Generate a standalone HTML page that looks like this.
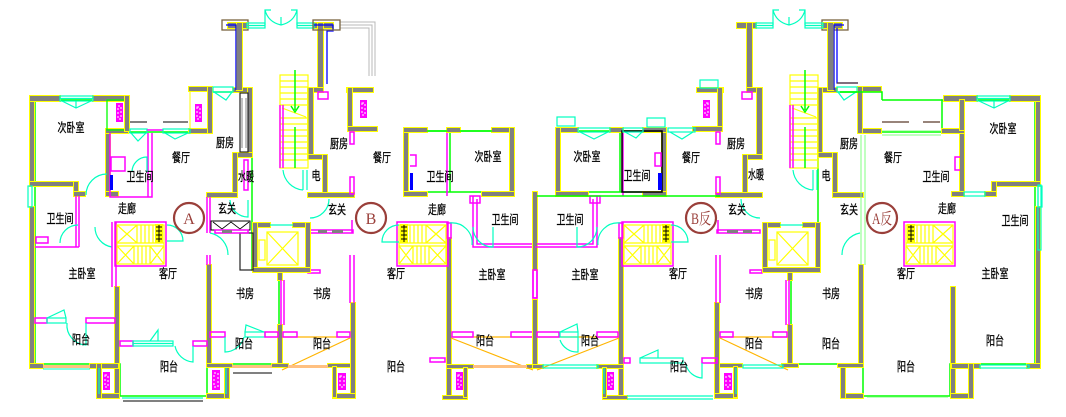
<!DOCTYPE html>
<html><head><meta charset="utf-8">
<style>
html,body{margin:0;padding:0;background:#fff;}
svg{display:block;}
.w{fill:#808080;stroke:#ffff00;stroke-width:2;paint-order:stroke;shape-rendering:crispEdges}
.g{stroke:#00ff00;fill:none;stroke-width:1.5}
.lg{stroke:#80ff80;fill:none;stroke-width:1}
.m{stroke:#ff00ff;fill:none;stroke-width:1.5}
.c{stroke:#00ffc0;fill:none;stroke-width:1.2}
.y{stroke:#ffff00;fill:none;stroke-width:1.2}
.o{stroke:#ffb400;fill:none;stroke-width:1.2}
.sa{fill:#ffc080}
.k{stroke:#000;fill:none;stroke-width:1}
.t{font-family:"Liberation Sans","Noto Sans CJK SC",sans-serif;font-size:12.5px;fill:#000;stroke:#000;stroke-width:0.3;}
.ct{fill:none;stroke:#9a3f3a;stroke-width:2.2}
.cl{font-family:"Liberation Serif","Noto Serif CJK SC",serif;font-size:16px;fill:#9a3f3a;}
</style></head><body>
<svg width="1066" height="417" viewBox="0 0 1066 417" xmlns="http://www.w3.org/2000/svg">
<defs>
<g id="stB">
  <rect x="397" y="222" width="51" height="44" class="m"/>
  <rect x="399" y="225" width="47" height="39" class="y"/>
  <path class="y" d="M410,225V243M414,225V243M418,225V243M422,225V243M426,225V243M426,225L446,243M446,225L426,243M399,243H446M399,246H446M413,246V264M417,246V264M421,246V264M425,246V264M429,246V264M399,246L413,264M413,246L399,264M429,246L446,264M446,246L429,264"/>
  <rect x="400" y="224" width="8" height="19" fill="#ffff00"/>
  <path d="M401,227H407M401,231H407M401,235H407M401,239H407M404,225V242" stroke="#000" stroke-width="1"/>
</g>
<g id="T">
  <rect class="y" x="280" y="75" width="28" height="93"/>
  <path class="y" d="M280,81H308M280,87H308M280,93H308M280,99H308M280,105H308M280,118H308M280,124H308M280,130H308M280,136H308M280,142H308M280,148H308M280,154H308M280,160H308M282,108L306,117"/>
  <path class="m" d="M280,105V168M283,105V168"/>
  <path class="g" d="M295,70V110M295,127V168M291,106L295,112L299,106"/>
  <path class="c" d="M283,170A22,22 0 0 0 303,190M303,170V190M307,170V190"/>
  <rect class="w" x="253" y="223" width="17" height="4"/>
  <rect class="w" x="293" y="223" width="17" height="4"/>
  <rect class="w" x="253" y="223" width="4" height="49"/>
  <rect class="w" x="306" y="223" width="4" height="49"/>
  <rect class="w" x="253" y="268" width="57" height="4"/>
  <line class="c" x1="270" y1="225" x2="293" y2="225"/>
  <rect class="y" x="267" y="232" width="31" height="33"/>
  <path class="y" d="M267,232L298,265M298,232L267,265" stroke-width="0.8"/>
  <rect class="y" x="259" y="240" width="6" height="20"/>
</g>
<g id="S">
  <path class="g" d="M35,364V100H128V132H210V92H252V270H279V364H207V396H120V364Z"/>
  <rect class="w" x="30" y="96" width="4" height="87"/>
  <rect class="w" x="30" y="207" width="4" height="161"/>
  <rect class="w" x="30" y="96" width="30" height="5"/>
  <rect class="w" x="93" y="96" width="33" height="5"/>
  <rect class="w" x="30" y="182" width="48" height="4"/>
  <rect class="w" x="74" y="182" width="4" height="14"/>
  <rect class="w" x="74" y="192" width="11" height="4"/>
  <rect class="w" x="106" y="130" width="4" height="66"/>
  <rect class="w" x="106" y="192" width="12" height="4"/>
  <rect class="w" x="106" y="129" width="22" height="4"/>
  <rect class="w" x="189" y="129" width="22" height="4"/>
  <rect class="w" x="189" y="87" width="23" height="4"/>
  <rect class="w" x="208" y="87" width="4" height="46"/>
  <rect class="w" x="233" y="88" width="19" height="4"/>
  <rect class="w" x="248" y="88" width="4" height="67"/>
  <rect class="w" x="233" y="153" width="19" height="4"/>
  <rect class="w" x="233" y="153" width="4" height="44"/>
  <rect class="w" x="207" y="193" width="30" height="4"/>
  <rect class="w" x="207" y="265" width="4" height="100"/>
  <rect class="w" x="115" y="287" width="4" height="111"/>
  <rect class="w" x="30" y="364" width="13" height="4"/>
  <rect class="w" x="90" y="364" width="28" height="4"/>
  <rect class="w" x="97" y="394" width="22" height="4"/>
  <rect class="w" x="97" y="364" width="4" height="34"/>
  <rect class="w" x="207" y="394" width="22" height="4"/>
  <rect class="w" x="225" y="364" width="4" height="34"/>
  <rect class="w" x="207" y="364" width="25" height="3"/>
  <rect class="w" x="278" y="270" width="4" height="10"/>
  <rect class="w" x="278" y="325" width="4" height="42"/>
  <rect class="w" x="272" y="364" width="16" height="3"/>
  <rect class="w" x="328" y="364" width="24" height="3"/>
  <rect class="w" x="351" y="303" width="4" height="95"/>
  <rect class="w" x="333" y="394" width="22" height="4"/>
  <rect class="w" x="333" y="367" width="3" height="30"/>
  <!-- tower -->
  <rect x="222" y="20" width="26" height="10" fill="none" stroke="#7a6440" stroke-width="1.3"/>
  <rect class="w" x="228" y="23" width="19" height="5"/>
  <rect class="w" x="237" y="23" width="5" height="67"/>
  <rect class="w" x="314" y="23" width="19" height="5"/>
  <rect class="w" x="318" y="23" width="5" height="67"/>
  <rect class="w" x="308" y="88" width="15" height="4"/>
  <rect class="w" x="308" y="88" width="5" height="70"/>
  <rect class="w" x="308" y="155" width="19" height="4"/>
  <rect class="w" x="323" y="155" width="4" height="42"/>
  <rect class="w" x="308" y="193" width="46" height="4"/>
  <polyline points="226,25 236,25 236,90" fill="none" stroke="#0000ff" stroke-width="1.3"/>
  <rect class="c" x="247" y="23" width="18" height="5"/><line class="c" x1="247" y1="25.5" x2="265" y2="25.5"/>
  <rect class="c" x="297" y="23" width="17" height="5"/><line class="c" x1="297" y1="25.5" x2="314" y2="25.5"/>
  <path class="c" d="M265,25V10H271M297,25V10H291M265,10Q268,22 281,25M297,10Q294,22 281,25M281,17V25"/>
  <!-- B closet -->
  <rect class="w" x="347" y="88" width="26" height="4"/>
  <rect class="w" x="348" y="88" width="4" height="43"/>
  <rect class="w" x="348" y="127" width="29" height="4"/>
  <rect x="360" y="100" width="7" height="18" fill="#ff00ff"/><rect x="362" y="103" width="3" height="12" fill="none" stroke="#fff" stroke-dasharray="2 2"/>
  <rect class="m" x="318" y="92" width="10" height="7"/>
  <!-- B block -->
  <rect class="g" x="408" y="131" width="102" height="61"/><line class="g" x1="450" y1="131" x2="450" y2="192"/>
  <path class="m" d="M447,132V196"/>
  <rect class="w" x="404" y="128" width="4" height="68"/>
  <rect class="w" x="404" y="128" width="23" height="4"/>
  <rect class="w" x="447" y="128" width="13" height="4"/>
  <rect class="w" x="492" y="128" width="22" height="4"/>
  <rect class="w" x="510" y="128" width="4" height="68"/>
  <rect class="w" x="404" y="192" width="23" height="4"/>
  <rect class="w" x="482" y="192" width="32" height="4"/>
  <rect class="w" x="447" y="238" width="4" height="160"/>
  <rect class="w" x="533" y="192" width="4" height="78"/>
  <rect class="w" x="533" y="300" width="4" height="67"/>
  <rect class="m" x="533" y="270" width="4" height="28"/>
  <rect class="w" x="447" y="365" width="26" height="3"/>
  <rect class="w" x="527" y="365" width="10" height="3"/>
  <rect class="w" x="443" y="396" width="24" height="3"/>
  <rect class="w" x="464" y="368" width="3" height="29"/>
  <!-- magenta B -->
  <rect class="m" x="310" y="230" width="43" height="3"/>
  <rect x="318" y="230" width="9" height="3" fill="#808080"/><rect x="332" y="230" width="11" height="3" fill="#808080"/>
  <path class="m" d="M352,220V233M281,280V325M284,280V325M350,255V303M354,255V303"/>
  <rect class="m" x="308" y="270" width="12" height="3"/>
  <rect class="m" x="350" y="132" width="4" height="12"/>
  <rect class="m" x="350" y="177" width="4" height="17"/>
  <rect class="m" x="447" y="223" width="4" height="15"/>
  <path class="m" d="M473,196V247H535M477,199V244H533"/>
  <rect class="m" x="470" y="196" width="10" height="7"/>
  <use href="#stB"/>
  <path class="c" d="M399,242H382A17,17 0 0 1 399,225"/>
  <path class="c" d="M329,199A19,19 0 0 1 310,218"/>
  <path class="c" d="M210,233A22,22 0 0 1 228,255"/>
  <path class="c" d="M473,227A20,20 0 0 0 493,247V227"/>
  <path class="c" d="M450,223A20,20 0 0 1 472,245"/>
  <!-- B balconies -->
  <line class="o" x1="282" y1="337" x2="350" y2="337"/><line class="o" x1="282" y1="370" x2="350" y2="338"/>
  <rect class="m" x="283" y="332" width="14" height="5"/><rect class="m" x="337" y="332" width="13" height="5"/>
  <rect x="338" y="373" width="8" height="17" fill="#ff00ff"/><rect x="340" y="376" width="4" height="11" fill="none" stroke="#fff" stroke-dasharray="2 2"/>
  <line class="o" x1="451" y1="337" x2="533" y2="337"/><line class="o" x1="451" y1="338" x2="533" y2="370"/>
  <rect class="m" x="452" y="332" width="21" height="5"/><rect class="m" x="511" y="332" width="22" height="5"/>
  <rect x="456" y="372" width="7" height="18" fill="#ff00ff"/><rect x="458" y="375" width="3" height="12" fill="none" stroke="#fff" stroke-dasharray="2 2"/>
  <!-- shared windows -->
  <rect class="c" x="60" y="96" width="33" height="5"/><line class="c" x1="60" y1="98.5" x2="93" y2="98.5"/>
  <path class="c" d="M62,101L76,108L91,101M76,101V108"/>
  <rect class="c" x="28" y="186" width="4" height="21"/>
  <rect class="c" x="213" y="87" width="20" height="5"/><path class="c" d="M214,92L226,100L232,92"/>
</g>
</defs>

<use href="#S"/>
<use href="#S" transform="translate(1070 0) scale(-1 1)"/>
<use href="#T"/>
<use href="#T" transform="translate(510 0)"/>
<use href="#stB" transform="translate(507 0)"/>

<!-- ===== A-only details ===== -->
<g>
  <rect x="107" y="100" width="21" height="30" fill="none" stroke="#00ff00" stroke-width="1.3"/>
  <rect class="w" x="125" y="96" width="4" height="35"/>
  <rect x="116" y="103" width="7" height="19" fill="#ff00ff"/><rect x="118" y="106" width="3" height="13" fill="none" stroke="#fff" stroke-dasharray="2 2"/>
  <rect x="195" y="104" width="7" height="18" fill="#ff00ff"/><rect x="197" y="107" width="3" height="12" fill="none" stroke="#fff" stroke-dasharray="2 2"/>
  <line x1="190" y1="91" x2="190" y2="129" stroke="#ffff00"/>
  <rect class="c" x="130" y="129" width="17" height="4"/><path class="c" d="M131,133L138,141L146,133"/>
  <line class="m" x1="147" y1="130" x2="163" y2="130"/>
  <rect class="c" x="163" y="129" width="27" height="4"/><path class="c" d="M165,133L175,139L188,133"/>
  <path class="k" d="M130,122H147M163,122H188" stroke-width="1.3"/>
  <path class="m" d="M110,133V197H152V133M148,133V197"/>
  <rect class="m" x="111" y="157" width="14" height="14"/>
  <rect x="110" y="175" width="3" height="15" fill="#0000ff"/>
  <path class="c" d="M132,172A15,15 0 0 1 147,157V172"/>
  <rect x="240" y="93" width="8" height="59" fill="#fff" stroke="#222" stroke-width="1.2"/>
  <path d="M242,98V148M246,98V148" stroke="#666" stroke-width="0.8"/>
  <rect class="m" x="244" y="160" width="4" height="30"/>
  <rect x="240" y="233" width="13" height="37" fill="none" stroke="#222" stroke-width="1.2"/>
  <path class="m" d="M76,196V247M79,196V247M35,247H79"/>
  <rect class="m" x="36" y="237" width="12" height="6"/>
  <path class="c" d="M60,243A18,18 0 0 1 78,225"/>
  <path class="c" d="M86,195A21,21 0 0 1 107,174"/>
  <path class="c" d="M95,227A20,20 0 0 0 112,247"/>
  <path class="m" d="M112,222V287M116,222V287"/>
  <use href="#stB" transform="translate(563 0) scale(-1 1)"/>
  <path class="c" d="M167,241H183A16,16 0 0 0 167,225"/>
  <path class="m" d="M207,197V233M210,197V233"/>
  <rect x="211" y="221" width="39" height="9" fill="#fff" stroke="#000"/>
  <path d="M213,222L222,229L231,222L240,229L249,222" fill="none" stroke="#000" stroke-width="0.8"/>
  <rect class="m" x="215" y="230" width="33" height="3"/><rect x="222" y="230" width="10" height="3" fill="#808080"/>
  <path class="c" d="M230,200A18,18 0 0 0 248,217V200"/>
  <path class="m" d="M207,255V265M210,255V265"/>
  <rect class="m" x="120" y="341" width="13" height="5"/>
  <rect class="c" x="133" y="341" width="40" height="5"/><line class="c" x1="133" y1="343.5" x2="173" y2="343.5"/>
  <path class="c" d="M150,341L158,330V341"/>
  <rect class="m" x="193" y="341" width="14" height="5"/>
  <path class="c" d="M193,346V362A20,20 0 0 1 175,346"/>
  <rect class="m" x="35" y="318" width="12" height="5"/>
  <rect class="c" x="47" y="318" width="19" height="5"/><path class="c" d="M47,318L64,310L66,318"/>
  <rect class="m" x="86" y="318" width="29" height="5"/>
  <path class="c" d="M86,323V345A20,20 0 0 1 67,323"/>
  <rect class="sa" x="43" y="365" width="47" height="3"/>
  <line x1="43" y1="369" x2="90" y2="369" stroke="#00ffc0"/>
  <line class="c" x1="122" y1="398" x2="203" y2="398"/>
  <line class="k" x1="123" y1="401" x2="203" y2="401"/>
  <rect x="103" y="372" width="7" height="18" fill="#ff00ff"/><rect x="105" y="375" width="3" height="12" fill="none" stroke="#fff" stroke-dasharray="2 2"/>
  <line class="c" x1="99" y1="368" x2="99" y2="394"/>
  <rect x="212" y="370" width="8" height="20" fill="#ff00ff"/><rect x="214" y="373" width="4" height="14" fill="none" stroke="#fff" stroke-dasharray="2 2"/>
  <line class="c" x1="226" y1="368" x2="226" y2="394"/>
  <rect class="m" x="210" y="332" width="15" height="5"/>
  <rect class="c" x="245" y="332" width="20" height="5"/><path class="c" d="M245,332L246,325L264,332"/>
  <rect class="m" x="265" y="332" width="13" height="5"/>
  <path class="c" d="M225,337V352A20,20 0 0 0 244,337"/>
  <rect class="sa" x="232" y="365" width="40" height="3"/>
  <line class="k" x1="233" y1="373" x2="272" y2="373"/>
  <!-- B-only -->
  <rect x="410" y="173" width="3" height="17" fill="#0000ff"/>
  <path class="m" d="M410,155H416V166H410"/>
  <path d="M340,22H375V76M340,25H372V76M340,28H369V76" fill="none" stroke="#b8b8b8"/>
  <polyline points="314,25 333,25 333,31 327,31 327,84" fill="none" stroke="#0000ff" stroke-width="1.3"/>
  <rect x="313" y="20" width="27" height="10" fill="none" stroke="#7a6440" stroke-width="1.3"/>
  <rect class="sa" x="288" y="365" width="40" height="3"/>
  <rect class="sa" x="473" y="365" width="54" height="3"/>
  <rect class="m" x="430" y="358" width="15" height="4"/>
  <path class="g" d="M427,131H447M460,131H492"/>
</g>

<!-- ===== B反-only ===== -->
<g>
  <line class="g" x1="537" y1="196" x2="720" y2="196"/>
  <rect x="622" y="131" width="40" height="61" fill="none" stroke="#000" stroke-width="1.5"/>
  <rect x="658" y="173" width="4" height="17" fill="#0000ff"/>
  <rect class="m" x="655" y="153" width="6" height="13"/>
  <rect class="c" x="578" y="128" width="32" height="4"/><path class="c" d="M580,132L594,139L608,132"/>
  <rect class="c" x="623" y="128" width="20" height="4"/><path class="c" d="M625,132L636,138L642,132"/>
  <rect class="c" x="557" y="117" width="18" height="9"/>
  <rect class="c" x="647" y="118" width="18" height="9"/>
  <rect class="c" x="668" y="128" width="27" height="4"/><path class="c" d="M670,132L682,139L693,132"/>
  <rect class="c" x="700" y="80" width="18" height="8"/>
  <rect class="c" x="560" y="332" width="18" height="5"/><path class="c" d="M560,332L577,324L578,332"/>
  <path class="c" d="M578,337V352A18,18 0 0 1 560,340"/>
  <rect class="c" x="543" y="365" width="55" height="3"/>
  <rect class="c" x="743" y="365" width="40" height="3"/>
  <rect class="m" x="624" y="358" width="6" height="5"/>
  <rect class="c" x="640" y="358" width="43" height="5"/><path class="c" d="M640,358L658,350V358"/>
  <rect class="m" x="702" y="358" width="15" height="5"/>
  <path class="c" d="M702,363V378A18,18 0 0 1 686,365"/>
  <path class="c" d="M627,396H713M627,399H713"/>
  <line class="c" x1="604" y1="368" x2="604" y2="394"/>
  <line class="c" x1="736" y1="368" x2="736" y2="394"/>
  <polyline points="837,28 837,83 858,83" fill="none" stroke="#0000ff" stroke-width="1.3"/>
  <line x1="837" y1="83" x2="858" y2="83" stroke="#5a4030" stroke-width="1.3"/>
</g>

<!-- ===== A反-only ===== -->
<g>
  <rect class="w" x="960" y="100" width="4" height="30"/>
  <path class="g" d="M882,100H942M840,92H882V100"/>
  <path d="M882,122H909M923,122H940" stroke="#5a3a2a" stroke-width="1.3"/>
  <path class="lg" d="M882,131H941M882,135H941M861,135V265M865,135V265"/>
  <rect class="c" x="964" y="192" width="21" height="4"/>
  <rect class="c" x="1038" y="185" width="3" height="65"/>
  <rect class="c" x="980" y="365" width="49" height="3"/>
  <path class="m" d="M960,157H955V170H960"/>
  <line class="lg" x1="867" y1="397" x2="948" y2="397"/>
</g>

<!-- circles -->
<circle class="ct" cx="189" cy="218" r="15"/><text class="cl" x="189" y="224" text-anchor="middle">A</text>
<circle class="ct" cx="371" cy="218" r="15"/><text class="cl" x="371" y="224" text-anchor="middle">B</text>
<circle class="ct" cx="701" cy="218" r="15"/><text class="cl" x="701" y="224" text-anchor="middle" textLength="20" lengthAdjust="spacingAndGlyphs">B反</text>
<circle class="ct" cx="882" cy="218" r="15"/><text class="cl" x="882" y="224" text-anchor="middle" textLength="20" lengthAdjust="spacingAndGlyphs">A反</text>

<!-- labels -->
<g class="t" text-anchor="middle">
<text x="71" y="132" textLength="27" lengthAdjust="spacingAndGlyphs">次卧室</text>
<text x="181" y="162" textLength="18" lengthAdjust="spacingAndGlyphs">餐厅</text>
<text x="225" y="147" textLength="18" lengthAdjust="spacingAndGlyphs">厨房</text>
<text x="140" y="181" textLength="27" lengthAdjust="spacingAndGlyphs">卫生间</text>
<text x="246" y="181" textLength="16" lengthAdjust="spacingAndGlyphs">水暖</text>
<text x="60" y="223" textLength="27" lengthAdjust="spacingAndGlyphs">卫生间</text>
<text x="127" y="213" textLength="18" lengthAdjust="spacingAndGlyphs">走廊</text>
<text x="227" y="213" textLength="18" lengthAdjust="spacingAndGlyphs">玄关</text>
<text x="82" y="278" textLength="27" lengthAdjust="spacingAndGlyphs">主卧室</text>
<text x="168" y="278" textLength="18" lengthAdjust="spacingAndGlyphs">客厅</text>
<text x="245" y="298" textLength="18" lengthAdjust="spacingAndGlyphs">书房</text>
<text x="81" y="344" textLength="18" lengthAdjust="spacingAndGlyphs">阳台</text>
<text x="169" y="371" textLength="18" lengthAdjust="spacingAndGlyphs">阳台</text>
<text x="244" y="348" textLength="18" lengthAdjust="spacingAndGlyphs">阳台</text>
<text x="339" y="148" textLength="18" lengthAdjust="spacingAndGlyphs">厨房</text>
<text x="316" y="180" textLength="9" lengthAdjust="spacingAndGlyphs">电</text>
<text x="382" y="162" textLength="18" lengthAdjust="spacingAndGlyphs">餐厅</text>
<text x="337" y="214" textLength="18" lengthAdjust="spacingAndGlyphs">玄关</text>
<text x="322" y="298" textLength="18" lengthAdjust="spacingAndGlyphs">书房</text>
<text x="322" y="348" textLength="18" lengthAdjust="spacingAndGlyphs">阳台</text>
<text x="396" y="278" textLength="18" lengthAdjust="spacingAndGlyphs">客厅</text>
<text x="396" y="371" textLength="18" lengthAdjust="spacingAndGlyphs">阳台</text>
<text x="437" y="214" textLength="18" lengthAdjust="spacingAndGlyphs">走廊</text>
<text x="488" y="161" textLength="27" lengthAdjust="spacingAndGlyphs">次卧室</text>
<text x="440" y="181" textLength="27" lengthAdjust="spacingAndGlyphs">卫生间</text>
<text x="505" y="224" textLength="27" lengthAdjust="spacingAndGlyphs">卫生间</text>
<text x="492" y="279" textLength="27" lengthAdjust="spacingAndGlyphs">主卧室</text>
<text x="485" y="345" textLength="18" lengthAdjust="spacingAndGlyphs">阳台</text>
<text x="570" y="224" textLength="27" lengthAdjust="spacingAndGlyphs">卫生间</text>
<text x="587" y="161" textLength="27" lengthAdjust="spacingAndGlyphs">次卧室</text>
<text x="585" y="279" textLength="27" lengthAdjust="spacingAndGlyphs">主卧室</text>
<text x="590" y="345" textLength="18" lengthAdjust="spacingAndGlyphs">阳台</text>
<text x="637" y="180" textLength="27" lengthAdjust="spacingAndGlyphs">卫生间</text>
<text x="691" y="162" textLength="18" lengthAdjust="spacingAndGlyphs">餐厅</text>
<text x="736" y="148" textLength="18" lengthAdjust="spacingAndGlyphs">厨房</text>
<text x="756" y="179" textLength="16" lengthAdjust="spacingAndGlyphs">水暖</text>
<text x="849" y="148" textLength="18" lengthAdjust="spacingAndGlyphs">厨房</text>
<text x="826" y="180" textLength="9" lengthAdjust="spacingAndGlyphs">电</text>
<text x="737" y="214" textLength="18" lengthAdjust="spacingAndGlyphs">玄关</text>
<text x="849" y="214" textLength="18" lengthAdjust="spacingAndGlyphs">玄关</text>
<text x="678" y="278" textLength="18" lengthAdjust="spacingAndGlyphs">客厅</text>
<text x="754" y="298" textLength="18" lengthAdjust="spacingAndGlyphs">书房</text>
<text x="831" y="298" textLength="18" lengthAdjust="spacingAndGlyphs">书房</text>
<text x="754" y="348" textLength="18" lengthAdjust="spacingAndGlyphs">阳台</text>
<text x="831" y="348" textLength="18" lengthAdjust="spacingAndGlyphs">阳台</text>
<text x="679" y="371" textLength="18" lengthAdjust="spacingAndGlyphs">阳台</text>
<text x="893" y="162" textLength="18" lengthAdjust="spacingAndGlyphs">餐厅</text>
<text x="936" y="181" textLength="27" lengthAdjust="spacingAndGlyphs">卫生间</text>
<text x="1003" y="133" textLength="27" lengthAdjust="spacingAndGlyphs">次卧室</text>
<text x="947" y="213" textLength="18" lengthAdjust="spacingAndGlyphs">走廊</text>
<text x="1015" y="225" textLength="27" lengthAdjust="spacingAndGlyphs">卫生间</text>
<text x="906" y="278" textLength="18" lengthAdjust="spacingAndGlyphs">客厅</text>
<text x="995" y="278" textLength="27" lengthAdjust="spacingAndGlyphs">主卧室</text>
<text x="995" y="345" textLength="18" lengthAdjust="spacingAndGlyphs">阳台</text>
<text x="906" y="371" textLength="18" lengthAdjust="spacingAndGlyphs">阳台</text>
</g>
</svg>
</body></html>
